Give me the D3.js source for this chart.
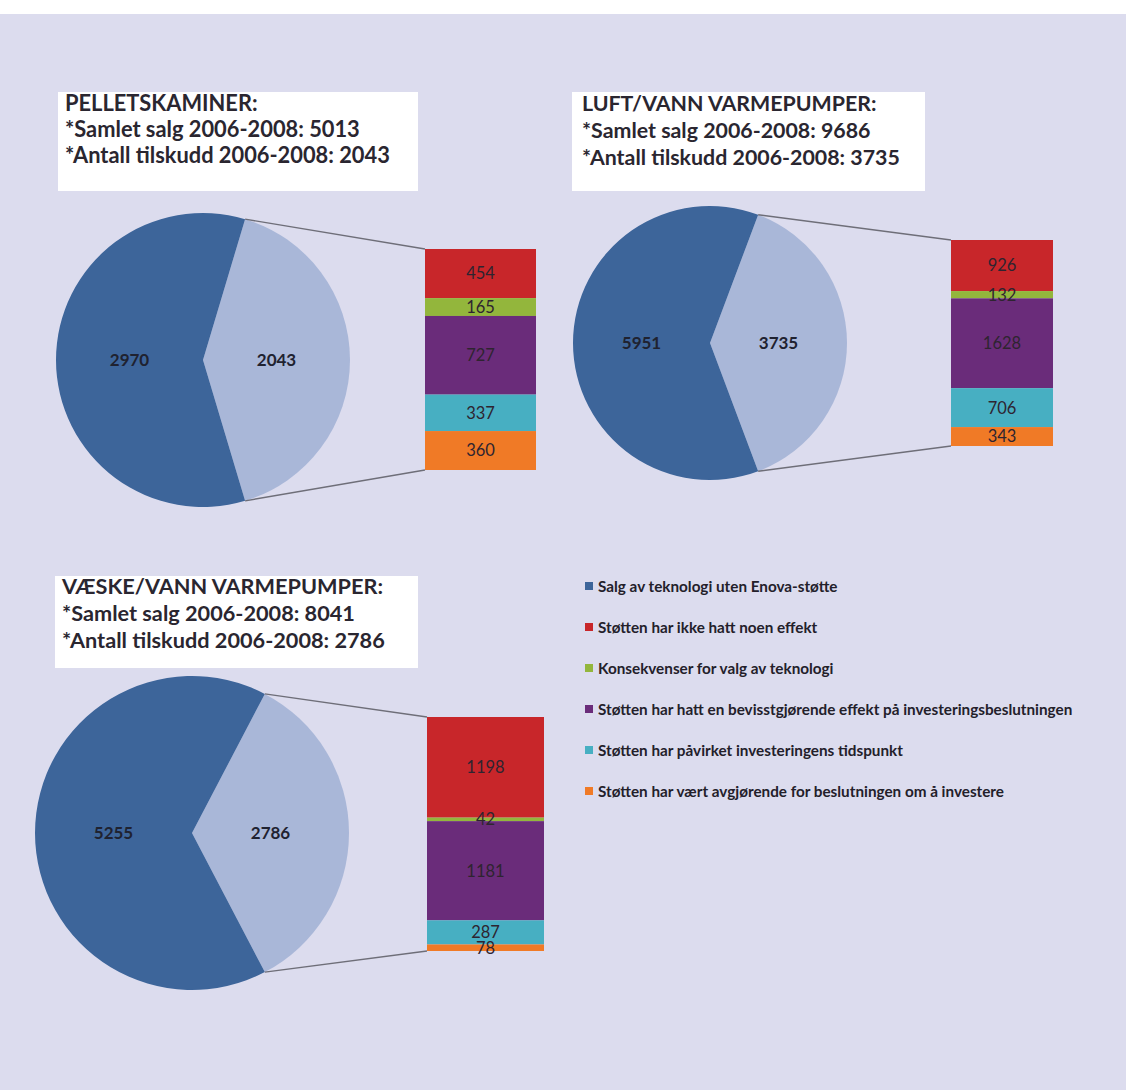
<!DOCTYPE html>
<html>
<head>
<meta charset="utf-8">
<script src="https://cdn.jsdelivr.net/npm/d3@7"></script>
<style>
  html, body { margin: 0; padding: 0; background: #ffffff; }
  svg { display: block; }
</style>
</head>
<body>
<svg id="chart" width="1126" height="1090"></svg>
<script>
// ---- data ----
const groupNames = ["PELLETSKAMINER", "LUFT/VANN VARMEPUMPER", "VÆSKE/VANN VARMEPUMPER"];
const totalSales = [5013, 9686, 8041];          // Samlet salg 2006-2008
const subsidyCount = [2043, 3735, 2786];        // Antall tilskudd 2006-2008
const salesWithoutSupport = [2970, 5951, 5255]; // Salg uten Enova-støtte

const effectCategories = [
  "Støtten har ikke hatt noen effekt",
  "Konsekvenser for valg av teknologi",
  "Støtten har hatt en bevisstgjørende effekt på investeringsbeslutningen",
  "Støtten har påvirket investeringens tidspunkt",
  "Støtten har vært avgjørende for beslutningen om å investere"
];
const effectPellets = [454, 165, 727, 337, 360];
const effectLuftVann = [926, 132, 1628, 706, 343];
const effectVaeskeVann = [1198, 42, 1181, 287, 78];
const effectSeries = [effectPellets, effectLuftVann, effectVaeskeVann];

const legendLabels = ["Salg av teknologi uten Enova-støtte"].concat(effectCategories);

// ---- styles ----
const pieColors = { without: "#3d659a", subsidy: "#a9b7d8" };
const effectColors = ["#c8262a", "#93b63c", "#6a2c7a", "#47afc2", "#f07a26"];
const legendColors = [pieColors.without].concat(effectColors);
const textColor = "#2a2630";

// ---- layout for each panel ----
const panels = [
  { box: { x: 58, y: 92, w: 360, h: 99 },  tx: 65, ty: [111, 137, 163], lineWidth: 325,
    cx: 203, cy: 360, r: 147, bar: { x: 425, y: 249, w: 111, h: 221 } },
  { box: { x: 572, y: 92, w: 353, h: 99 }, tx: 582, ty: [111, 138, 165], lineWidth: 318,
    cx: 710, cy: 343, r: 137, bar: { x: 951, y: 240, w: 102, h: 206 } },
  { box: { x: 55, y: 576, w: 363, h: 92 }, tx: 62, ty: [594, 621, 648], lineWidth: 323,
    cx: 192, cy: 833, r: 157, bar: { x: 427, y: 717, w: 117, h: 234 } }
];

const svg = d3.select("#chart");

// background
svg.append("rect").attr("x", 0).attr("y", 0).attr("width", 1126).attr("height", 1090).attr("fill", "#ffffff");
svg.append("rect").attr("x", 0).attr("y", 14).attr("width", 1126).attr("height", 1076).attr("fill", "#dcdcee");

panels.forEach((p, i) => {
  const g = svg.append("g");

  // header box
  g.append("rect")
    .attr("x", p.box.x).attr("y", p.box.y)
    .attr("width", p.box.w).attr("height", p.box.h)
    .attr("fill", "#ffffff");

  const lines = [
    groupNames[i] + ":",
    "*Samlet salg 2006-2008: " + totalSales[i],
    "*Antall tilskudd 2006-2008: " + subsidyCount[i]
  ];
  const texts = g.selectAll("text.hdr").data(lines).join("text")
    .attr("class", "hdr")
    .attr("x", p.tx)
    .attr("y", (d, k) => p.ty[k])
    .attr("font-family", "Lato, 'Open Sans', sans-serif")
    .attr("font-weight", 700)
    .attr("font-size", 20)
    .attr("fill", textColor)
    .text(d => d);
  // size the header so the longest line spans its box
  const measured = texts.nodes()[2].getComputedTextLength();
  texts.attr("font-size", 20 * p.lineWidth / measured);

  // pie: subsidised slice centred at 3 o'clock
  const pieData = [
    { key: "subsidy", value: subsidyCount[i] },
    { key: "without", value: salesWithoutSupport[i] }
  ];
  const half = Math.PI * subsidyCount[i] / (subsidyCount[i] + salesWithoutSupport[i]);
  const pie = d3.pie().value(d => d.value).sort(null)
    .startAngle(Math.PI / 2 - half).endAngle(Math.PI / 2 - half + 2 * Math.PI);
  const arcs = pie(pieData);
  const arc = d3.arc().innerRadius(0).outerRadius(p.r);

  const pg = g.append("g").attr("transform", `translate(${p.cx},${p.cy})`);
  pg.selectAll("path").data(arcs).join("path")
    .attr("d", arc)
    .attr("fill", d => pieColors[d.data.key]);
  pg.selectAll("text").data(arcs).join("text")
    .attr("transform", d => `translate(${arc.centroid(d)})`)
    .attr("text-anchor", "middle")
    .attr("dy", "0.36em")
    .attr("font-family", "Lato, sans-serif")
    .attr("font-weight", 700)
    .attr("font-size", 17)
    .attr("fill", "#1f2230")
    .text(d => d.data.value);

  // stacked bar for the subsidised share
  const vals = effectSeries[i];
  const total = d3.sum(vals);
  const y = d3.scaleLinear().domain([0, total]).range([p.bar.y, p.bar.y + p.bar.h]);
  const cum = d3.cumsum(vals);
  const segs = vals.map((v, k) => ({ v, k, y0: cum[k] - v, y1: cum[k] }));

  // connector lines from slice edges to the bar
  const subArc = arcs[0];
  const pt = a => [p.cx + p.r * Math.sin(a), p.cy - p.r * Math.cos(a)];
  const [ax, ay] = pt(subArc.startAngle);
  const [bx, by] = pt(subArc.endAngle);
  g.append("line").attr("x1", ax).attr("y1", ay).attr("x2", p.bar.x).attr("y2", y(0))
    .attr("stroke", "#6e6e78").attr("stroke-width", 1.4);
  g.append("line").attr("x1", bx).attr("y1", by).attr("x2", p.bar.x).attr("y2", y(total))
    .attr("stroke", "#6e6e78").attr("stroke-width", 1.4);

  g.selectAll("rect.seg").data(segs).join("rect")
    .attr("class", "seg")
    .attr("x", p.bar.x).attr("width", p.bar.w)
    .attr("y", d => y(d.y0))
    .attr("height", d => y(d.y1) - y(d.y0))
    .attr("fill", d => effectColors[d.k]);
  g.selectAll("text.seg").data(segs).join("text")
    .attr("class", "seg")
    .attr("x", p.bar.x + p.bar.w / 2)
    .attr("y", d => (y(d.y0) + y(d.y1)) / 2)
    .attr("dy", "0.36em")
    .attr("text-anchor", "middle")
    .attr("font-family", "Lato, sans-serif")
    .attr("font-size", 16.5)
    .attr("fill", "#2e2430")
    .text(d => d.v);
});

// legend
const legend = svg.append("g");
const ly = d3.scaleLinear().domain([0, legendLabels.length - 1]).range([592, 797]);
legend.selectAll("rect").data(legendLabels).join("rect")
  .attr("x", 585).attr("y", (d, k) => ly(k) - 10)
  .attr("width", 8).attr("height", 8)
  .attr("fill", (d, k) => legendColors[k]);
const legendText = legend.selectAll("text").data(legendLabels).join("text")
  .attr("x", 598).attr("y", (d, k) => ly(k))
  .attr("font-family", "Lato, sans-serif")
  .attr("font-weight", 700)
  .attr("font-size", 14)
  .attr("fill", "#23202a")
  .text(d => d);
// the longest entry reaches the right edge of the legend column
const longest = d3.max(legendText.nodes(), n => n.getComputedTextLength());
legendText.attr("font-size", 14 * 475 / longest);
</script>
</body>
</html>
